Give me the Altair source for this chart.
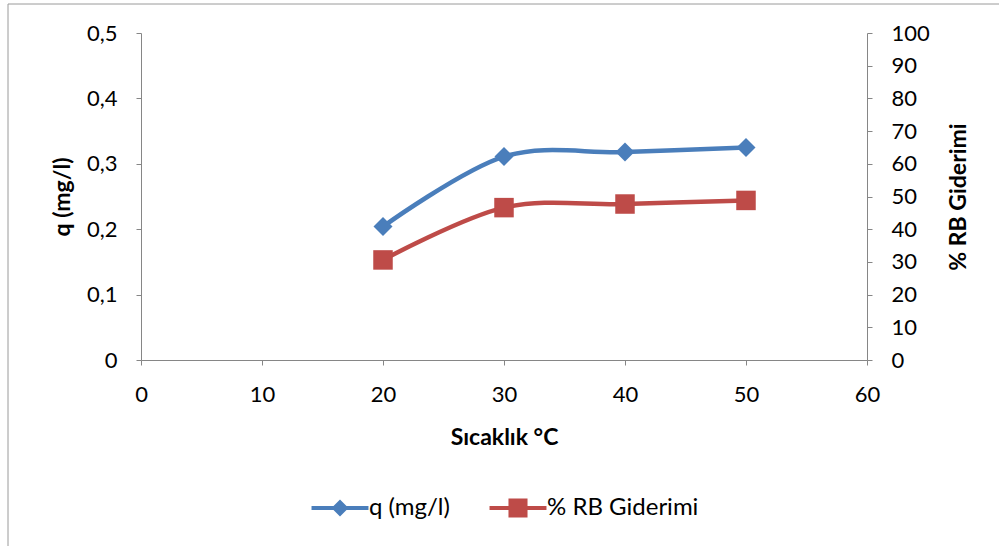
import altair as alt
import pandas as pd

# Temperature series (°C) with adsorption capacity and removal percentage
temps = [20, 30, 40, 50]
q_values = [0.204, 0.311, 0.318, 0.325]
rb_values = [30.6, 46.6, 47.7, 48.8]

series_names = ["q (mg/l)", "% RB Giderimi"]
series_colors = ["#4A7EBB", "#BE4B48"]

x_ticks = [0, 10, 20, 30, 40, 50, 60]
q_ticks = [0, 0.1, 0.2, 0.3, 0.4, 0.5]
rb_ticks = [0, 10, 20, 30, 40, 50, 60, 70, 80, 90, 100]

FONT = "Lato"
GREY = "#868686"
W, H = 726, 327

q_df = pd.DataFrame({"temp": temps, "value": q_values})
rb_df = pd.DataFrame({"temp": temps, "value": rb_values})
key_df = pd.DataFrame({"series": series_names})
frame_df = pd.DataFrame({"k": [0]})

common_axis = dict(
    grid=False,
    domainColor=GREY,
    domainWidth=1,
    tickColor=GREY,
    tickWidth=1,
    tickSize=5,
    labelFont=FONT,
    labelFontSize=22,
    labelColor="#000000",
    labelPadding=19,
    labelFlush=False,
    labelOverlap=False,
    titleFont=FONT,
    titleFontSize=23,
    titleFontWeight="bold",
    titleColor="#000000",
)

x_axis = alt.Axis(
    values=x_ticks,
    format="d",
    title="Sıcaklık °C",
    titleX=W / 2,
    titleY=77,
    titleBaseline="middle",
    titleAlign="center",
    **common_axis,
)

x_enc = alt.X("temp:Q", scale=alt.Scale(domain=[0, 60], nice=False, zero=False), axis=x_axis)

q_axis = alt.Axis(
    orient="left",
    values=q_ticks,
    labelExpr="datum.value == 0 ? '0' : replace(format(datum.value, '.1f'), '.', ',')",
    title="q (mg/l)",
    titleAngle=270,
    titleX=-79,
    titleY=H / 2,
    titleBaseline="middle",
    titleAlign="center",
    **common_axis,
)

rb_axis = alt.Axis(
    orient="right",
    values=rb_ticks,
    format="d",
    title="% RB Giderimi",
    titleAngle=270,
    titleX=91,
    titleY=H / 2,
    titleBaseline="middle",
    titleAlign="center",
    **common_axis,
)

q_y = alt.Y("value:Q", scale=alt.Scale(domain=[0, 0.5], nice=False, zero=True), axis=q_axis)
rb_y = alt.Y("value:Q", scale=alt.Scale(domain=[0, 100], nice=False, zero=True), axis=rb_axis)

# q (mg/l): smoothed line with diamond markers, left axis
q_line = alt.Chart(q_df).mark_line(
    interpolate="cardinal", strokeWidth=4.5, color=series_colors[0]
).encode(x=x_enc, y=q_y)
q_pts = alt.Chart(q_df).mark_point(
    filled=True, shape="diamond", size=361, opacity=1, color=series_colors[0]
).encode(x=x_enc, y=q_y)
left = alt.layer(q_line, q_pts)

# % RB Giderimi: smoothed line with square markers, right axis
rb_line = alt.Chart(rb_df).mark_line(
    interpolate="cardinal", strokeWidth=4.5, color=series_colors[1]
).encode(x=x_enc, y=rb_y)
rb_pts = alt.Chart(rb_df).mark_point(
    filled=True, shape="square", size=380, opacity=1, color=series_colors[1]
).encode(x=x_enc, y=rb_y)
right = alt.layer(rb_line, rb_pts)

# Legend keys: a line segment with the series marker in the middle
key_paths = [
    "M-3.35,-0.24H3.35V0.24H-3.35Z M0,-1L1,0L0,1L-1,0Z",
    "M-3.35,-0.24H3.35V0.24H-3.35Z M-1.12,-1.12H1.12V1.12H-1.12Z",
]
legend = alt.Legend(
    title=None,
    orient="none",
    legendX=187,
    legendY=463,
    direction="horizontal",
    padding=0,
    symbolSize=289,
    symbolOpacity=1,
    symbolStrokeWidth=0,
    labelFont=FONT,
    labelFontSize=24,
    labelColor="#000000",
    labelOffset=17,
    columnPadding=39,
    labelLimit=0,
)
key = alt.Chart(key_df).mark_point(filled=True, opacity=0).encode(
    color=alt.Color("series:N", scale=alt.Scale(domain=series_names, range=series_colors), legend=legend),
    shape=alt.Shape("series:N", scale=alt.Scale(domain=series_names, range=key_paths), legend=legend),
)

# Thin grey frame along the top and left of the chart area
frame_left = alt.Chart(frame_df).mark_rule(color="#9A9A9A", strokeWidth=1).encode(
    x=alt.value(-133), y=alt.value(-29), y2=alt.value(513)
)
frame_top = alt.Chart(frame_df).mark_rule(color="#9A9A9A", strokeWidth=1).encode(
    x=alt.value(-133), x2=alt.value(858), y=alt.value(-29)
)

chart = (
    alt.layer(left, right, key, frame_left, frame_top)
    .resolve_scale(y="independent")
    .properties(
        width=W,
        height=H,
        padding={"left": 141, "top": 33, "right": 132, "bottom": 186},
        autosize=alt.AutoSizeParams(type="none"),
        background="white",
    )
    .configure_view(stroke=None)
)

chart.save("out.html", embed_options={"renderer": "svg", "actions": False})
